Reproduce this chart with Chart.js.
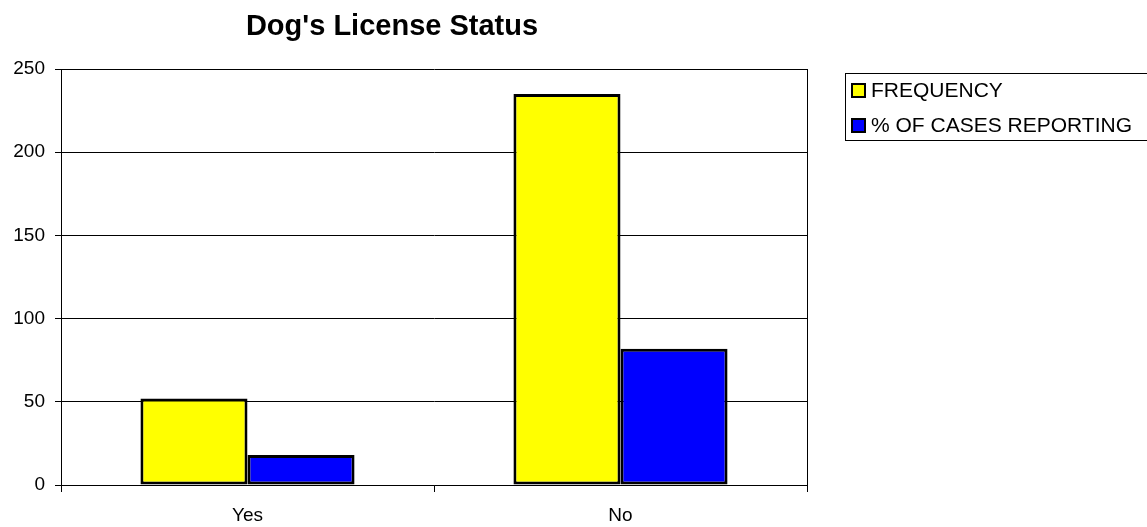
<!DOCTYPE html>
<html>
<head>
<meta charset="utf-8">
<script src="https://cdn.jsdelivr.net/npm/chart.js@4"></script>
<style>
  html, body { margin: 0; padding: 0; background: #fff; }
  #wrap { width: 1147px; height: 527px; }
</style>
</head>
<body>
<div id="wrap"><canvas id="chart" width="1147" height="527"></canvas></div>
<script>
const categories = ['Yes', 'No'];
const frequency = [52, 235];
const percentReporting = [18.1, 81.9];
const seriesNames = ['FREQUENCY', '% OF CASES REPORTING'];
const yTicks = [0, 50, 100, 150, 200, 250];

const fontFamily = '"Liberation Sans", Arial, sans-serif';

// title, right border of plot and boxed legend drawn by hand
const extras = {
    id: 'extras',
    afterDraw(chart) {
        const ctx = chart.ctx;
        const area = chart.chartArea;
        ctx.save();

        ctx.strokeStyle = '#000';
        ctx.lineWidth = 1;
        ctx.beginPath();
        ctx.moveTo(Math.round(area.right) + 0.5, area.top);
        ctx.lineTo(Math.round(area.right) + 0.5, area.bottom);
        ctx.stroke();

        ctx.fillStyle = '#000';
        ctx.font = 'bold 29px ' + fontFamily;
        ctx.textAlign = 'center';
        ctx.textBaseline = 'alphabetic';
        ctx.fillText("Dog's License Status", 392, 35);

        // legend
        ctx.strokeStyle = '#000';
        ctx.strokeRect(845.5, 73.5, 310, 67);
        ctx.font = '21px ' + fontFamily;
        ctx.textAlign = 'left';
        ctx.textBaseline = 'middle';
        chart.data.datasets.forEach((ds, i) => {
            const y = 90 + i * 35;
            ctx.fillStyle = ds.backgroundColor;
            ctx.fillRect(852, y - 6, 13, 13);
            ctx.lineWidth = 2;
            ctx.strokeRect(852, y - 6, 13, 13);
            ctx.fillStyle = '#000';
            ctx.fillText(ds.label, 871, y + 1);
        });
        ctx.restore();
    }
};

new Chart(document.getElementById('chart'), {
    type: 'bar',
    data: {
        labels: categories,
        datasets: [
            {
                label: seriesNames[0],
                data: frequency,
                backgroundColor: '#FFFF00',
                borderColor: '#000',
                borderWidth: 3,
                borderSkipped: false,
                categoryPercentage: 0.574,
                barPercentage: 1.0
            },
            {
                label: seriesNames[1],
                data: percentReporting,
                backgroundColor: '#0000FF',
                borderColor: '#000',
                borderWidth: 3,
                borderSkipped: false,
                categoryPercentage: 0.574,
                barPercentage: 1.0
            }
        ]
    },
    options: {
        responsive: false,
        animation: false,
        layout: { padding: { top: 69, right: 340, left: 0, bottom: 0 } },
        plugins: {
            legend: { display: false },
            title: { display: false },
            tooltip: { enabled: false }
        },
        scales: {
            x: {
                grid: {
                    offset: true,
                    drawOnChartArea: false,
                    drawTicks: true,
                    tickLength: 7,
                    color: '#000'
                },
                border: { display: true, color: '#000', width: 1 },
                ticks: {
                    color: '#000',
                    font: { family: fontFamily, size: 19 },
                    padding: 12
                },
                afterFit(scale) { scale.height = 42; }
            },
            y: {
                min: 0,
                max: 250,
                afterBuildTicks(scale) {
                    scale.ticks = yTicks.map(v => ({ value: v }));
                },
                grid: {
                    color: '#000',
                    lineWidth: 1,
                    tickLength: 6
                },
                border: { display: true, color: '#000', width: 1 },
                ticks: {
                    color: '#000',
                    font: { family: fontFamily, size: 19 },
                    padding: 10
                },
                afterFit(scale) { scale.width = 61; }
            }
        }
    },
    plugins: [extras]
});
</script>
</body>
</html>
